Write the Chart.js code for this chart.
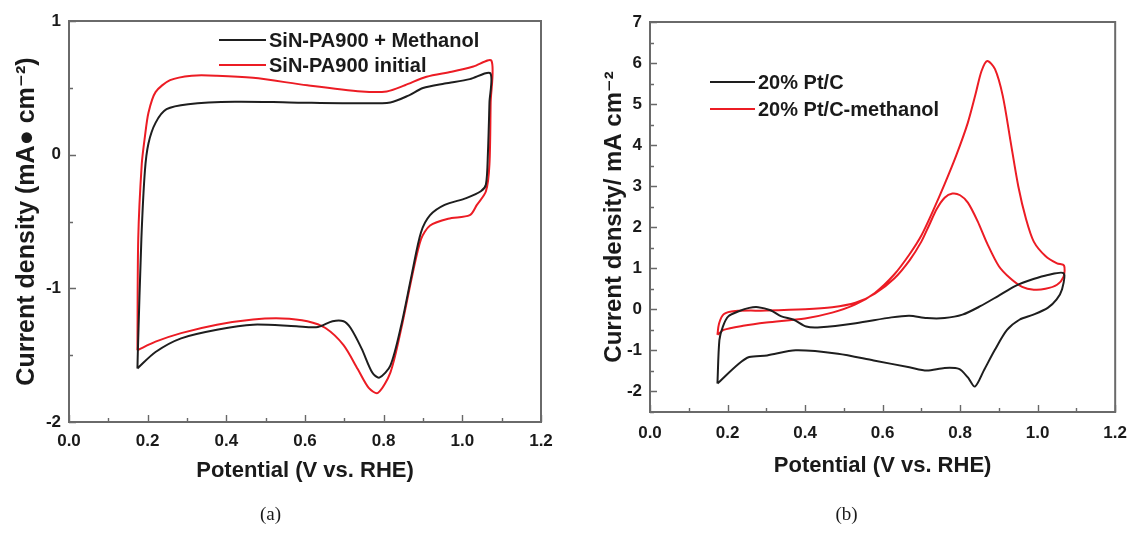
<!DOCTYPE html>
<html>
<head>
<meta charset="utf-8">
<script src="https://cdn.jsdelivr.net/npm/chart.js@4.4.1/dist/chart.umd.min.js"></script>
<style>
  html, body { margin: 0; padding: 0; background: #fff; }
  #wrap { position: relative; width: 1138px; height: 536px; }
  .box { position: absolute; top: 0; height: 536px; }
  #boxA { left: 0; width: 570px; }
  #boxB { left: 570px; width: 568px; }
</style>
</head>
<body>
<div id="wrap">
  <div class="box" id="boxA"><canvas id="chartA"></canvas></div>
  <div class="box" id="boxB"><canvas id="chartB"></canvas></div>
</div>
<script>
// ---- data ----
var xTicks = [0, 0.2, 0.4, 0.6, 0.8, 1.0, 1.2];
var yTicksA = [-2, -1, 0, 1];
var yTicksB = [-2, -1, 0, 1, 2, 3, 4, 5, 6, 7];

// (a) SiN-PA900 + Methanol
var potA_meth = [0.174,0.175,0.184,0.193,0.202,0.220,0.248,0.303,0.422,0.560,
                 0.744,0.817,0.863,0.900,0.955,1.019,1.071,1.069,1.065,1.060,
                 1.047,1.010,0.955,0.918,0.895,0.872,0.845,0.817,0.789,0.771,
                 0.744,0.716,0.698,0.670,0.633,0.578,0.468,0.376,0.285,0.220,0.174];
var curA_meth = [-1.599,-1.476,-0.632,-0.120,0.084,0.238,0.340,0.378,0.396,0.391,
                 0.384,0.391,0.442,0.499,0.532,0.565,0.609,0.391,0.007,-0.223,
                 -0.274,-0.325,-0.376,-0.453,-0.581,-0.888,-1.272,-1.578,-1.668,-1.630,
                 -1.451,-1.297,-1.246,-1.246,-1.289,-1.284,-1.272,-1.310,-1.374,-1.476,-1.599];

// (a) SiN-PA900 initial
var potA_init = [0.174,0.176,0.185,0.193,0.202,0.220,0.257,0.312,0.376,0.468,
                 0.606,0.744,0.808,0.854,0.909,0.973,1.028,1.074,1.072,1.069,
                 1.060,1.037,1.019,0.964,0.918,0.895,0.872,0.845,0.817,0.785,
                 0.762,0.734,0.698,0.652,0.606,0.542,0.468,0.376,0.285,0.220,0.174];
var curA_init = [-1.463,-0.632,-0.069,0.135,0.314,0.468,0.557,0.591,0.591,0.575,
                 0.519,0.473,0.473,0.519,0.583,0.621,0.660,0.703,0.391,-0.069,
                 -0.274,-0.376,-0.453,-0.479,-0.530,-0.632,-0.913,-1.297,-1.630,-1.783,
                 -1.745,-1.604,-1.425,-1.297,-1.246,-1.225,-1.233,-1.272,-1.335,-1.399,-1.463];

// (b) 20% Pt/C
var potB_pt = [0.174,0.179,0.188,0.202,0.229,0.256,0.279,0.311,0.339,0.371,
               0.403,0.440,0.531,0.623,0.669,0.714,0.760,0.806,0.852,0.898,
               0.943,0.989,1.026,1.067,1.063,1.049,1.026,0.989,0.953,0.921,
               0.889,0.861,0.838,0.820,0.797,0.760,0.714,0.669,0.577,0.485,
               0.376,0.302,0.256,0.229,0.174];
var curB_pt = [-1.806,-0.749,-0.418,-0.171,-0.047,0.036,0.053,-0.022,-0.171,-0.253,
               -0.418,-0.435,-0.336,-0.195,-0.154,-0.212,-0.212,-0.129,0.077,0.325,
               0.573,0.738,0.837,0.879,0.490,0.243,0.036,-0.129,-0.253,-0.501,
               -0.997,-1.492,-1.881,-1.658,-1.451,-1.426,-1.492,-1.410,-1.245,-1.079,
               -0.997,-1.121,-1.162,-1.327,-1.806];

// (b) 20% Pt/C-methanol
var potB_meoh = [0.174,0.19,0.24,0.30,0.40,0.47,0.53,0.58,0.63,0.67,
                 0.70,0.73,0.76,0.79,0.82,0.84,0.855,0.87,0.89,0.91,
                 0.93,0.95,0.97,0.99,1.02,1.05,1.068,1.067,1.05,1.02,
                 0.99,0.96,0.93,0.90,0.87,0.845,0.82,0.80,0.78,0.76,
                 0.74,0.72,0.70,0.67,0.63,0.58,0.53,0.47,0.40,0.30,
                 0.22,0.19,0.178,0.174];
var curB_meoh = [-0.62,-0.50,-0.40,-0.32,-0.22,-0.08,0.12,0.40,0.85,1.35,
                 1.80,2.40,3.05,3.75,4.55,5.25,5.80,6.05,5.85,5.20,
                 4.10,3.00,2.20,1.65,1.30,1.12,1.07,0.80,0.60,0.50,
                 0.48,0.55,0.75,1.05,1.60,2.15,2.60,2.78,2.82,2.72,
                 2.45,2.05,1.65,1.20,0.75,0.38,0.16,0.05,0.00,-0.03,
                 -0.04,-0.12,-0.35,-0.62];

var BLACK = '#1e1e1e';
var RED = '#ec1c24';
var SANS = '"Liberation Sans", "DejaVu Sans", Arial, sans-serif';

function pts(xs, ys) {
    return xs.map(function (v, i) { return {x: v, y: ys[i]}; });
}

// inward ticks + box frame
var framePlugin = {
    id: 'frame',
    afterDatasetsDraw: function (chart, args, o) {
        var ctx = chart.ctx, a = chart.chartArea;
        var x = chart.scales.x, y = chart.scales.y;
        ctx.save();
        ctx.strokeStyle = '#686868';
        ctx.lineWidth = 1.4;
        ctx.beginPath();
        for (var v = x.min; v <= x.max + 1e-9; v += 0.1) {
            var px = Math.round(x.getPixelForValue(v)) + 0.5;
            var major = Math.abs(v / 0.2 - Math.round(v / 0.2)) < 1e-6;
            ctx.moveTo(px, a.bottom);
            ctx.lineTo(px, a.bottom - (major ? 7 : 4));
        }
        for (var w = y.min; w <= y.max + 1e-9; w += o.yMinor) {
            var py = Math.round(y.getPixelForValue(w)) + 0.5;
            var maj = Math.abs(w - Math.round(w)) < 1e-6;
            ctx.moveTo(a.left, py);
            ctx.lineTo(a.left + (maj ? 7 : 4), py);
        }
        ctx.stroke();
        ctx.lineWidth = 2;
        ctx.strokeStyle = '#6a6a6a';
        ctx.strokeRect(a.left, a.top, a.right - a.left, a.bottom - a.top);
        ctx.restore();
    }
};

// legend drawn inside the plot
var innerLegend = {
    id: 'innerLegend',
    afterDraw: function (chart, args, o) {
        var ctx = chart.ctx;
        ctx.save();
        ctx.font = 'bold ' + o.size + 'px ' + SANS;
        ctx.textBaseline = 'middle';
        chart.data.datasets.forEach(function (ds, i) {
            var yy = o.y + i * o.gap;
            ctx.strokeStyle = ds.borderColor;
            ctx.lineWidth = 2;
            ctx.beginPath();
            ctx.moveTo(o.x, yy);
            ctx.lineTo(o.x + o.len, yy);
            ctx.stroke();
            ctx.fillStyle = '#1a1a1a';
            ctx.fillText(ds.label, o.x + o.len + 3, yy + 1);
        });
        ctx.restore();
    }
};

function makeChart(id, c) {
    return new Chart(document.getElementById(id), {
        type: 'scatter',
        data: {datasets: c.datasets.map(function (d) {
            return {
                label: d.label,
                data: d.data,
                showLine: true,
                borderColor: d.color,
                borderWidth: 2,
                pointRadius: 0,
                tension: 0.28,
                fill: false
            };
        })},
        plugins: [framePlugin, innerLegend],
        options: {
            responsive: true,
            maintainAspectRatio: false,
            animation: false,
            layout: {padding: {top: c.top, right: c.right, left: 0, bottom: 0}},
            scales: {
                x: {
                    type: 'linear', min: 0, max: 1.2,
                    afterBuildTicks: function (s) { s.ticks = xTicks.map(function (v) { return {value: v}; }); },
                    afterFit: function (s) { s.height = c.xHeight; },
                    grid: {display: false, drawTicks: false},
                    border: {display: false},
                    ticks: {
                        padding: c.xPad, color: '#1a1a1a',
                        font: {family: SANS, size: 17, weight: 'bold'},
                        callback: function (v) { return v.toFixed(1); }
                    },
                    title: {
                        display: true, text: 'Potential (V vs. RHE)', color: '#1a1a1a',
                        font: {family: SANS, size: 22, weight: 'bold'},
                        padding: {top: 0, bottom: c.xTitlePad}
                    }
                },
                y: {
                    type: 'linear', min: c.yMin, max: c.yMax,
                    afterBuildTicks: function (s) { s.ticks = c.yTicks.map(function (v) { return {value: v}; }); },
                    afterFit: function (s) { s.width = c.yWidth; },
                    grid: {display: false, drawTicks: false},
                    border: {display: false},
                    ticks: {
                        padding: 8, color: '#1a1a1a',
                        font: {family: SANS, size: 17, weight: 'bold'}
                    },
                    title: {
                        display: true, text: c.yTitle, color: '#1a1a1a',
                        font: {family: SANS, size: c.yTitleSize, weight: 'bold'},
                        padding: {top: c.yTitlePad, bottom: 0}
                    }
                }
            },
            plugins: {
                legend: {display: false},
                tooltip: {enabled: false},
                title: {
                    display: true, text: c.caption, position: 'bottom', color: '#1a1a1a',
                    font: {family: '"Liberation Serif", "DejaVu Serif", serif', size: 19, weight: 'normal'},
                    padding: {top: 4, bottom: 10}
                },
                frame: {yMinor: 0.5},
                innerLegend: c.legend
            }
        }
    });
}

makeChart('chartA', {
    datasets: [
        {label: 'SiN-PA900 + Methanol', data: pts(potA_meth, curA_meth), color: BLACK},
        {label: 'SiN-PA900 initial', data: pts(potA_init, curA_init), color: RED}
    ],
    yMin: -2, yMax: 1, yTicks: yTicksA,
    yTitle: 'Current density (mA\u25CF cm\u207B\u00B2)', yTitleSize: 25, yTitlePad: 12,
    top: 21, right: 29, yWidth: 69, xHeight: 77.2, xPad: 9, xTitlePad: 15,
    caption: '(a)',
    legend: {x: 219, y: 40, gap: 25, len: 47, size: 20}
});

makeChart('chartB', {
    datasets: [
        {label: '20% Pt/C', data: pts(potB_pt, curB_pt), color: BLACK},
        {label: '20% Pt/C-methanol', data: pts(potB_meoh, curB_meoh), color: RED}
    ],
    yMin: -2.5, yMax: 7, yTicks: yTicksB,
    yTitle: 'Current density/ mA cm\u207B\u00B2', yTitleSize: 24, yTitlePad: 30,
    top: 22, right: 15, yWidth: 80, xHeight: 87.2, xPad: 11, xTitlePad: 20,
    caption: '(b)',
    legend: {x: 140, y: 82, gap: 27, len: 45, size: 20}
});
</script>
</body>
</html>
